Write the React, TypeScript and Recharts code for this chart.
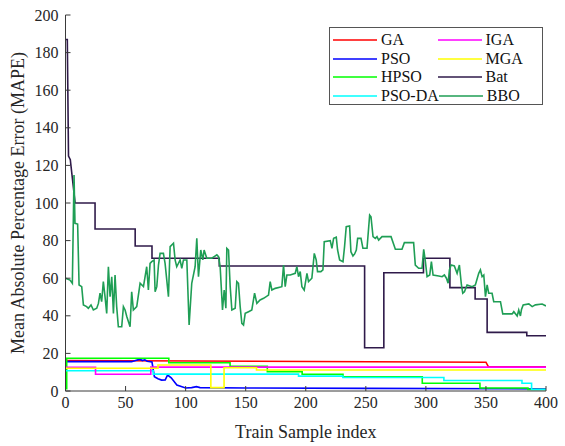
import { LineChart, Line, XAxis, YAxis } from 'recharts';

// x = train sample index, y = MAPE
const xTicks = [0, 50, 100, 150, 200, 250, 300, 350, 400];
const yTicks = [0, 20, 40, 60, 80, 100, 120, 140, 160, 180, 200];

const gaPoints = [[0, 16.2], [350, 15.3], [352, 12.9], [400, 12.9]];

const psoPoints = [
  [0, 15.6], [55, 15.6], [62, 16.9], [64, 16.2], [66, 16.6], [68, 15.8], [72, 15.4], [74, 7.6],
  [77, 6.5], [80, 5.8], [83, 5.9], [85, 8.5], [88, 7], [92.7, 3.2], [100, 1.6], [105, 1.8],
  [109, 2.3], [112, 1.8], [150, 1.6], [250, 1.4], [400, 1.1],
];

// step series: value holds until next point
const hpsoPoints = [
  [0, 1.2], [1, 17.4], [86, 15], [137, 13.2], [168, 10.3], [197, 8.9], [231, 7.6],
  [297, 4.1], [345, 1.6], [385, 0.8], [400, 0.8],
];

const psoDaPoints = [
  [0, 10.8], [73, 9], [194, 7.9], [231, 7.2], [315, 5.6], [380, 4.1], [388, 0.8], [400, 0.8],
];

const igaPoints = [[0, 12.6], [25, 8.9], [71, 12.7], [400, 12.7]];

const mgaPoints = [[0, 12.1], [77, 13.8], [121, 1.8], [132, 12.4], [159, 11.2], [400, 11.2]];

const batPoints = [
  [0, 187], [1.5, 187], [2.5, 125], [4, 123], [8, 100], [24.6, 100], [24.6, 86.2], [58, 86.2],
  [58, 77.1], [72, 77.1], [72, 70.6], [128, 70.6], [128, 66.5], [249, 66.5], [249, 23],
  [265, 23], [265, 62.9], [298, 62.9], [298, 70.6], [320, 70.6], [320, 55], [341, 55],
  [341, 48.9], [351, 48.9], [351, 31.2], [384, 31.2], [384, 29.4], [400, 29.4],
];

const bboPoints = [
  [0, 60], [3.75, 59], [5.7, 57.3], [7.1, 114.9], [7.9, 89.2], [10.1, 88.8], [11.3, 56.4], [13.5, 55.5],
  [14.9, 45.8], [17.6, 44.9], [19, 44], [21.25, 45.8], [23.2, 43.1], [26, 44], [27.4, 46.6], [28.75, 52],
  [30.1, 47.5], [31.5, 58.2], [32.9, 50.2], [34.3, 41.3], [35.7, 66.1], [37.1, 50.2], [38.5, 60.8],
  [39.9, 41.3], [41.25, 61.7], [42.6, 44.9], [44, 34.2], [46.8, 34.2], [48.2, 44.9], [49.6, 43.1],
  [51, 39.6], [53.75, 34.2], [55.1, 52.8], [56.5, 43.1], [59.3, 44.9], [62.1, 57.3], [64.9, 55.5],
  [67.6, 66.1], [69, 53.7], [70.4, 67.9], [71.8, 68.8], [73.75, 69.7], [74.6, 52.8], [76, 55.5],
  [77.4, 67], [78.75, 73.2], [81.5, 73.2], [82.9, 67.9], [85.7, 50.2], [87.1, 76.8], [89.9, 78.6],
  [91.25, 69.7], [92.6, 66.1], [95.4, 69.7], [96.8, 65.2], [98.2, 69.7], [101, 69.7], [102.9, 35.1],
  [105.1, 57.3], [107.9, 66.1], [109.3, 81.2], [110.7, 60.8], [112.6, 75], [114.3, 69.7], [115.4, 75],
  [117.6, 70.6], [121.8, 70.6], [126, 72.4], [127.4, 71.5], [128.75, 66.1], [130.7, 43.1], [132.1, 53.7],
  [133.5, 44], [134.3, 75.9], [135.7, 75], [137.1, 55.5], [138.5, 43.1], [141.25, 44], [142.6, 58.2],
  [144, 57.3], [145.4, 44.9], [146.8, 36], [148.2, 35.1], [149.6, 41.3], [152.4, 42.2], [155.1, 43.1],
  [157.4, 52], [159.3, 46.6], [162, 48.4], [164.9, 49.3], [169, 51], [170.4, 58.2], [171.8, 53.7],
  [174.6, 54.6], [180.1, 55.5], [181.5, 67], [182.9, 55.5], [184.3, 61.7], [187.1, 61.7], [191.25, 62.6],
  [192.6, 66.1], [194, 60.8], [195.4, 63.5], [196.8, 55.5], [198.7, 53.7], [201, 62.6], [202.3, 58.2],
  [205.1, 60], [207.1, 73.2], [208.7, 69.7], [209.8, 63.5], [212.6, 63.5], [214.3, 64.4], [215.4, 79.4],
  [220.4, 80], [221.8, 75.9], [223.2, 81.2], [225.4, 81.8], [226.5, 75], [228.2, 69.7], [231, 68.8],
  [232.3, 76.8], [233.7, 87.4], [236.5, 87.8], [237.6, 74.1], [239.3, 71.8], [240.7, 72.9], [242.1, 75],
  [243.2, 81.2], [246, 81.2], [247.6, 75.9], [251, 75.9], [253.2, 93.6], [254.3, 92.7], [256, 82.1],
  [257.9, 81.2], [259.3, 82.1], [260.7, 80.3], [263.5, 82.1], [271, 82.1], [274.6, 75.4], [280.1, 75.4],
  [282.1, 78.9], [289.8, 78.9], [291.2, 67], [294, 65.3], [296.8, 65.3], [298.2, 75.4], [299.6, 68.8],
  [301, 60.8], [303.2, 61.7], [304.6, 68.8], [306, 61.7], [310.7, 61.2], [313.5, 60.8], [315.4, 61.7],
  [317.1, 60], [318.5, 57.3], [319.6, 64.4], [321, 67], [323.7, 66.5], [326, 62.6], [327.9, 67],
  [329.6, 56.4], [330.7, 52], [332.1, 52.8], [334.3, 56.4], [338.5, 55.5], [341.2, 56.4], [344, 62.6],
  [345.4, 64.4], [346.8, 60.8], [348.2, 61.7], [349.6, 50.2], [351, 56.4], [352.3, 52], [355.1, 52],
  [356.5, 47.5], [362.1, 47.5], [364, 41], [371.8, 41], [373.2, 42.2], [376, 39.9], [377.3, 43.1],
  [378.7, 39.9], [379.6, 43.4], [381, 45.8], [385.7, 46.3], [388.5, 44.9], [391.2, 45.8], [396.8, 46.3],
  [400, 45.2],
];

const toData = (pts: number[][]) => pts.map(([x, y]) => ({ x, y }));

// plot order (MATLAB draws later ones on top)
const SERIES = [
  { name: 'GA', color: '#ff0000', points: gaPoints, type: 'linear' },
  { name: 'PSO', color: '#0000ff', points: psoPoints, type: 'linear' },
  { name: 'HPSO', color: '#00ff00', points: hpsoPoints, type: 'stepAfter' },
  { name: 'PSO-DA', color: '#00ffff', points: psoDaPoints, type: 'stepAfter' },
  { name: 'IGA', color: '#ff00ff', points: igaPoints, type: 'stepAfter' },
  { name: 'MGA', color: '#ffff00', points: mgaPoints, type: 'stepAfter' },
  { name: 'Bat', color: '#2f1a4a', points: batPoints, type: 'linear' },
  { name: 'BBO', color: '#1f9e55', points: bboPoints, type: 'linear' },
];

const FONT = '"Liberation Serif", "Times New Roman", serif';
const AXIS = '#3a3a3a';

function LegendBox() {
  // two columns, first four series in the left column
  const rows = [0, 1, 2, 3].map((i) => [SERIES[i], SERIES[i + 4]]);
  return (
    <div style={{ position: 'absolute', left: 329, top: 27, width: 214, height: 78, border: '1px solid #555', background: '#fff', boxSizing: 'border-box', padding: '3px 0 0 3px', fontSize: 16, color: '#111', lineHeight: '18px' }}>
      {rows.map((row, r) => (
        <div key={r} style={{ display: 'flex', height: 18.5, alignItems: 'center' }}>
          {row.map((s) => (
            <div key={s.name} style={{ display: 'flex', alignItems: 'center', width: 112, whiteSpace: 'nowrap' }}>
              <svg width={44} height={4} style={{ marginRight: 4 }}>
                <line x1={0} y1={2} x2={44} y2={2} stroke={s.color} strokeWidth={1.5} />
              </svg>
              <span>{s.name}</span>
            </div>
          ))}
        </div>
      ))}
    </div>
  );
}

export default function App() {
  return (
    <div style={{ position: 'relative', width: 565, height: 446, background: '#fff', fontFamily: FONT }}>
      <style>{`body{margin:0}`}</style>
      <LineChart width={565} height={446} margin={{ top: 15, right: 19, bottom: 0, left: 0 }}>
        <XAxis
          xAxisId="b"
          type="number"
          dataKey="x"
          domain={[0, 400]}
          ticks={xTicks}
          allowDataOverflow
          height={55}
          stroke={AXIS}
          tickSize={-5}
          tickMargin={11}
          tick={{ fill: '#262626', fontSize: 16, fontFamily: FONT }}
          label={{ value: 'Train Sample index', position: 'insideBottom', offset: 8, style: { fill: '#262626', fontSize: 18, fontFamily: FONT } }}
        />
        <XAxis
          xAxisId="t"
          orientation="top"
          type="number"
          domain={[0, 400]}
          ticks={xTicks}
          allowDataOverflow
          height={0}
          stroke={AXIS}
          tickSize={-5}
          tickFormatter={() => ''}
        />
        <YAxis
          yAxisId="l"
          type="number"
          domain={[0, 200]}
          ticks={yTicks}
          allowDataOverflow
          width={65.5}
          stroke={AXIS}
          tickSize={-5}
          tickMargin={12}
          tick={{ fill: '#262626', fontSize: 16, fontFamily: FONT }}
          label={{ value: 'Mean Absolute Percentage Error (MAPE)', angle: -90, position: 'insideLeft', offset: 18, style: { textAnchor: 'middle', fill: '#262626', fontSize: 18, fontFamily: FONT } }}
        />
        <YAxis
          yAxisId="r"
          orientation="right"
          type="number"
          domain={[0, 200]}
          ticks={yTicks}
          allowDataOverflow
          width={0}
          stroke={AXIS}
          tickSize={-5}
          tickFormatter={() => ''}
        />
        {SERIES.map((s) => (
          <Line
            key={s.name}
            xAxisId="b"
            yAxisId="l"
            name={s.name}
            data={toData(s.points)}
            dataKey="y"
            type={s.type as any}
            stroke={s.color}
            strokeWidth={1.6}
            dot={false}
            activeDot={false}
            isAnimationActive={false}
          />
        ))}
      </LineChart>
      <LegendBox />
    </div>
  );
}
